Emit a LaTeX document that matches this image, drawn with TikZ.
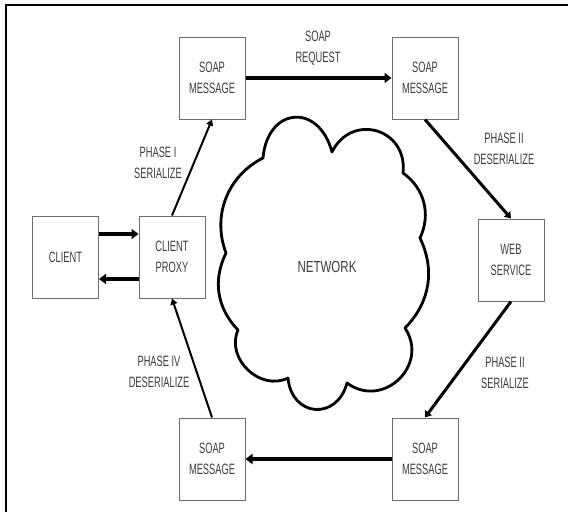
\documentclass[tikz,border=0pt]{standalone}
\usepackage{fontspec}
\setmainfont{Liberation Sans}
\newfontfamily\narrowfont[FakeStretch=0.62]{Liberation Sans}
\newfontfamily\netfont[FakeStretch=0.72]{Liberation Sans}
\usepackage{tikz}
\usetikzlibrary{arrows.meta,positioning,calc}
\definecolor{ink}{HTML}{000000}
\definecolor{boxline}{HTML}{6E6E6E}
\definecolor{textgray}{HTML}{3C3C3C}
\tikzset{
  >={Triangle[length=7pt,width=10pt]},
  box/.style={draw=boxline,line width=1pt,minimum width=66pt,minimum height=82pt,inner sep=0pt,
    align=center,text=textgray,font=\narrowfont\fontsize{15}{21}\selectfont},
  lbl/.style={align=center,text=textgray,font=\narrowfont\fontsize{15}{21}\selectfont},
  heavyflow/.style={->,line width=4pt,color=ink},
  midflow/.style={-{Triangle[length=6pt,width=8pt]},line width=3pt,color=ink},
  flow/.style={-{Triangle[length=6pt,width=7pt]},line width=2pt,color=ink},
  cloudline/.style={line width=2.8pt,color=ink,line join=round},
}

\begin{document}
\begin{tikzpicture}[x=1pt,y=-1pt]
  \useasboundingbox (0,0) rectangle (568,512);
  \draw[line width=2.5pt,color=ink] (6,512) -- (6,5) -- (568,5);

  % message boxes round the network
  \node[box] (tlmsg) at (212,78) {SOAP\\MESSAGE};
  \node[box] (trmsg) at (425,78) {SOAP\\MESSAGE};
  \node[box] (client) at (65.5,257) {CLIENT};
  \node[box] (proxy) at (172,257) {CLIENT\\PROXY};
  \node[box] (web) at (511,260) {WEB\\SERVICE};
  \node[box] (blmsg) at (212,459) {SOAP\\MESSAGE};
  \node[box] (brmsg) at (425,459) {SOAP\\MESSAGE};

  % the network cloud
  \draw[cloudline] (263,158)
    to[bend left=80,looseness=1.9] (332,152)
    to[bend left=80,looseness=1.54] (403,173)
    to[bend left=40] (420,238)
    to[bend left=35] (405,328)
    to[bend left=80,looseness=1.43] (347,383)
    to[bend left=80,looseness=1.7] (288,378)
    to[bend left=70,looseness=1.15] (238,330)
    to[bend left=35] (226,253)
    to[bend left=42] (263,158) -- cycle;
  \node[font=\netfont\fontsize{16}{20}\selectfont,text=textgray] (net) at (327,267) {NETWORK};

  % phase labels
  \node[lbl] (reqlbl) at (318,48) {SOAP\\REQUEST};
  \node[lbl] (ph1) at (158,163) {PHASE I\\SERIALIZE};
  \node[lbl] (ph2a) at (504,149) {PHASE II\\DESERIALIZE};
  \node[lbl] (ph2b) at (505,373) {PHASE II\\SERIALIZE};
  \node[lbl] (ph4) at (159,372) {PHASE IV\\DESERIALIZE};

  % flows
  \draw[heavyflow] (tlmsg) -- (trmsg);
  \draw[heavyflow] (brmsg) -- (blmsg);
  \draw[heavyflow] ([yshift=23pt]client.east) -- ([yshift=23pt]proxy.west);
  \draw[heavyflow] ([yshift=-22pt]proxy.west) -- ([yshift=-22pt]client.east);
  \draw[flow] (proxy.north) -- (tlmsg.south);
  \draw[midflow] (trmsg.south) -- (web.north);
  \draw[midflow] (web.south) -- (brmsg.north);
  \draw[flow] (blmsg.north) -- (proxy.south);
\end{tikzpicture}
\end{document}
